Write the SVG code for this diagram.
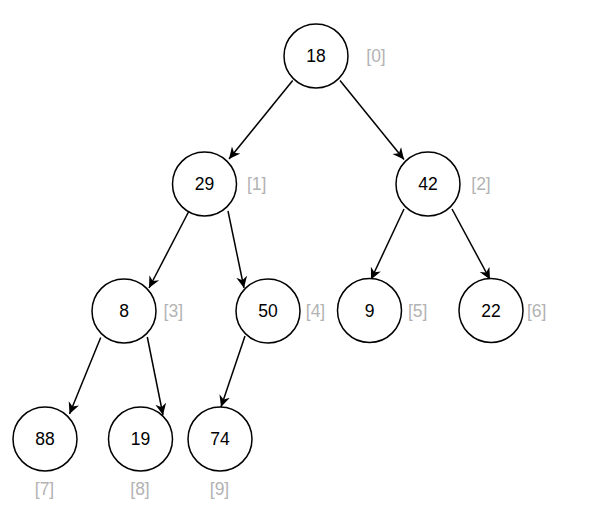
<svg xmlns="http://www.w3.org/2000/svg" width="599" height="519" viewBox="0 0 599 519">
<defs>
<marker id="arr" viewBox="0 0 12 12" refX="11.5" refY="6" markerWidth="12" markerHeight="12" markerUnits="userSpaceOnUse" orient="auto">
<path d="M0,0.5 L11.5,6 L0,11.5 L3.5,6 Z" fill="#000"/>
</marker>
</defs>
<style>
.n circle{fill:#fff;stroke:#000;stroke-width:1.5}
.n text{font-family:"Liberation Sans",Arial,sans-serif;font-size:17.5px;fill:#000;text-anchor:middle;dominant-baseline:central}
.idx{font-family:"Liberation Sans",Arial,sans-serif;font-size:17.5px;fill:#B3B3B3;text-anchor:middle;dominant-baseline:central}
#edges line{stroke:#000;stroke-width:1.5;marker-end:url(#arr)}
</style>
<rect width="599" height="519" fill="#fff"/>
<g id="edges">
<line x1="292.7" y1="80.5" x2="229" y2="159"/>
<line x1="340" y1="80.5" x2="404" y2="159.5"/>
<line x1="189" y1="211" x2="149" y2="288"/>
<line x1="228" y1="211" x2="244" y2="288"/>
<line x1="404" y1="209" x2="371" y2="279.5"/>
<line x1="452" y1="209" x2="490" y2="279.5"/>
<line x1="100.7" y1="337.5" x2="69.5" y2="414"/>
<line x1="147.3" y1="337" x2="163" y2="415"/>
<line x1="245" y1="336" x2="221" y2="407"/>
</g>
<g id="n18" class="n"><circle cx="316" cy="56" r="32"/><text x="316" y="56">18</text></g>
<g id="n29" class="n"><circle cx="204.5" cy="184" r="32"/><text x="204.5" y="184">29</text></g>
<g id="n42" class="n"><circle cx="428" cy="184" r="32"/><text x="428" y="184">42</text></g>
<g id="n8" class="n"><circle cx="124" cy="311" r="32"/><text x="124" y="311">8</text></g>
<g id="n50" class="n"><circle cx="268" cy="311" r="32"/><text x="268" y="311">50</text></g>
<g id="n9" class="n"><circle cx="369.5" cy="310.5" r="32"/><text x="369.5" y="310.5">9</text></g>
<g id="n22" class="n"><circle cx="491" cy="310.5" r="32"/><text x="491" y="310.5">22</text></g>
<g id="n88" class="n"><circle cx="45" cy="439" r="32"/><text x="45" y="439">88</text></g>
<g id="n19" class="n"><circle cx="140.5" cy="439" r="32"/><text x="140.5" y="439">19</text></g>
<g id="n74" class="n"><circle cx="220" cy="439" r="32"/><text x="220" y="439">74</text></g>
<g id="labels">
<text class="idx" x="376" y="56">[0]</text>
<text class="idx" x="256.7" y="184">[1]</text>
<text class="idx" x="481" y="184">[2]</text>
<text class="idx" x="173.3" y="311">[3]</text>
<text class="idx" x="315.5" y="311">[4]</text>
<text class="idx" x="417.7" y="310.5">[5]</text>
<text class="idx" x="536.7" y="310.5">[6]</text>
<text class="idx" x="44.5" y="489">[7]</text>
<text class="idx" x="140" y="489">[8]</text>
<text class="idx" x="219.5" y="489">[9]</text>
</g>
</svg>
